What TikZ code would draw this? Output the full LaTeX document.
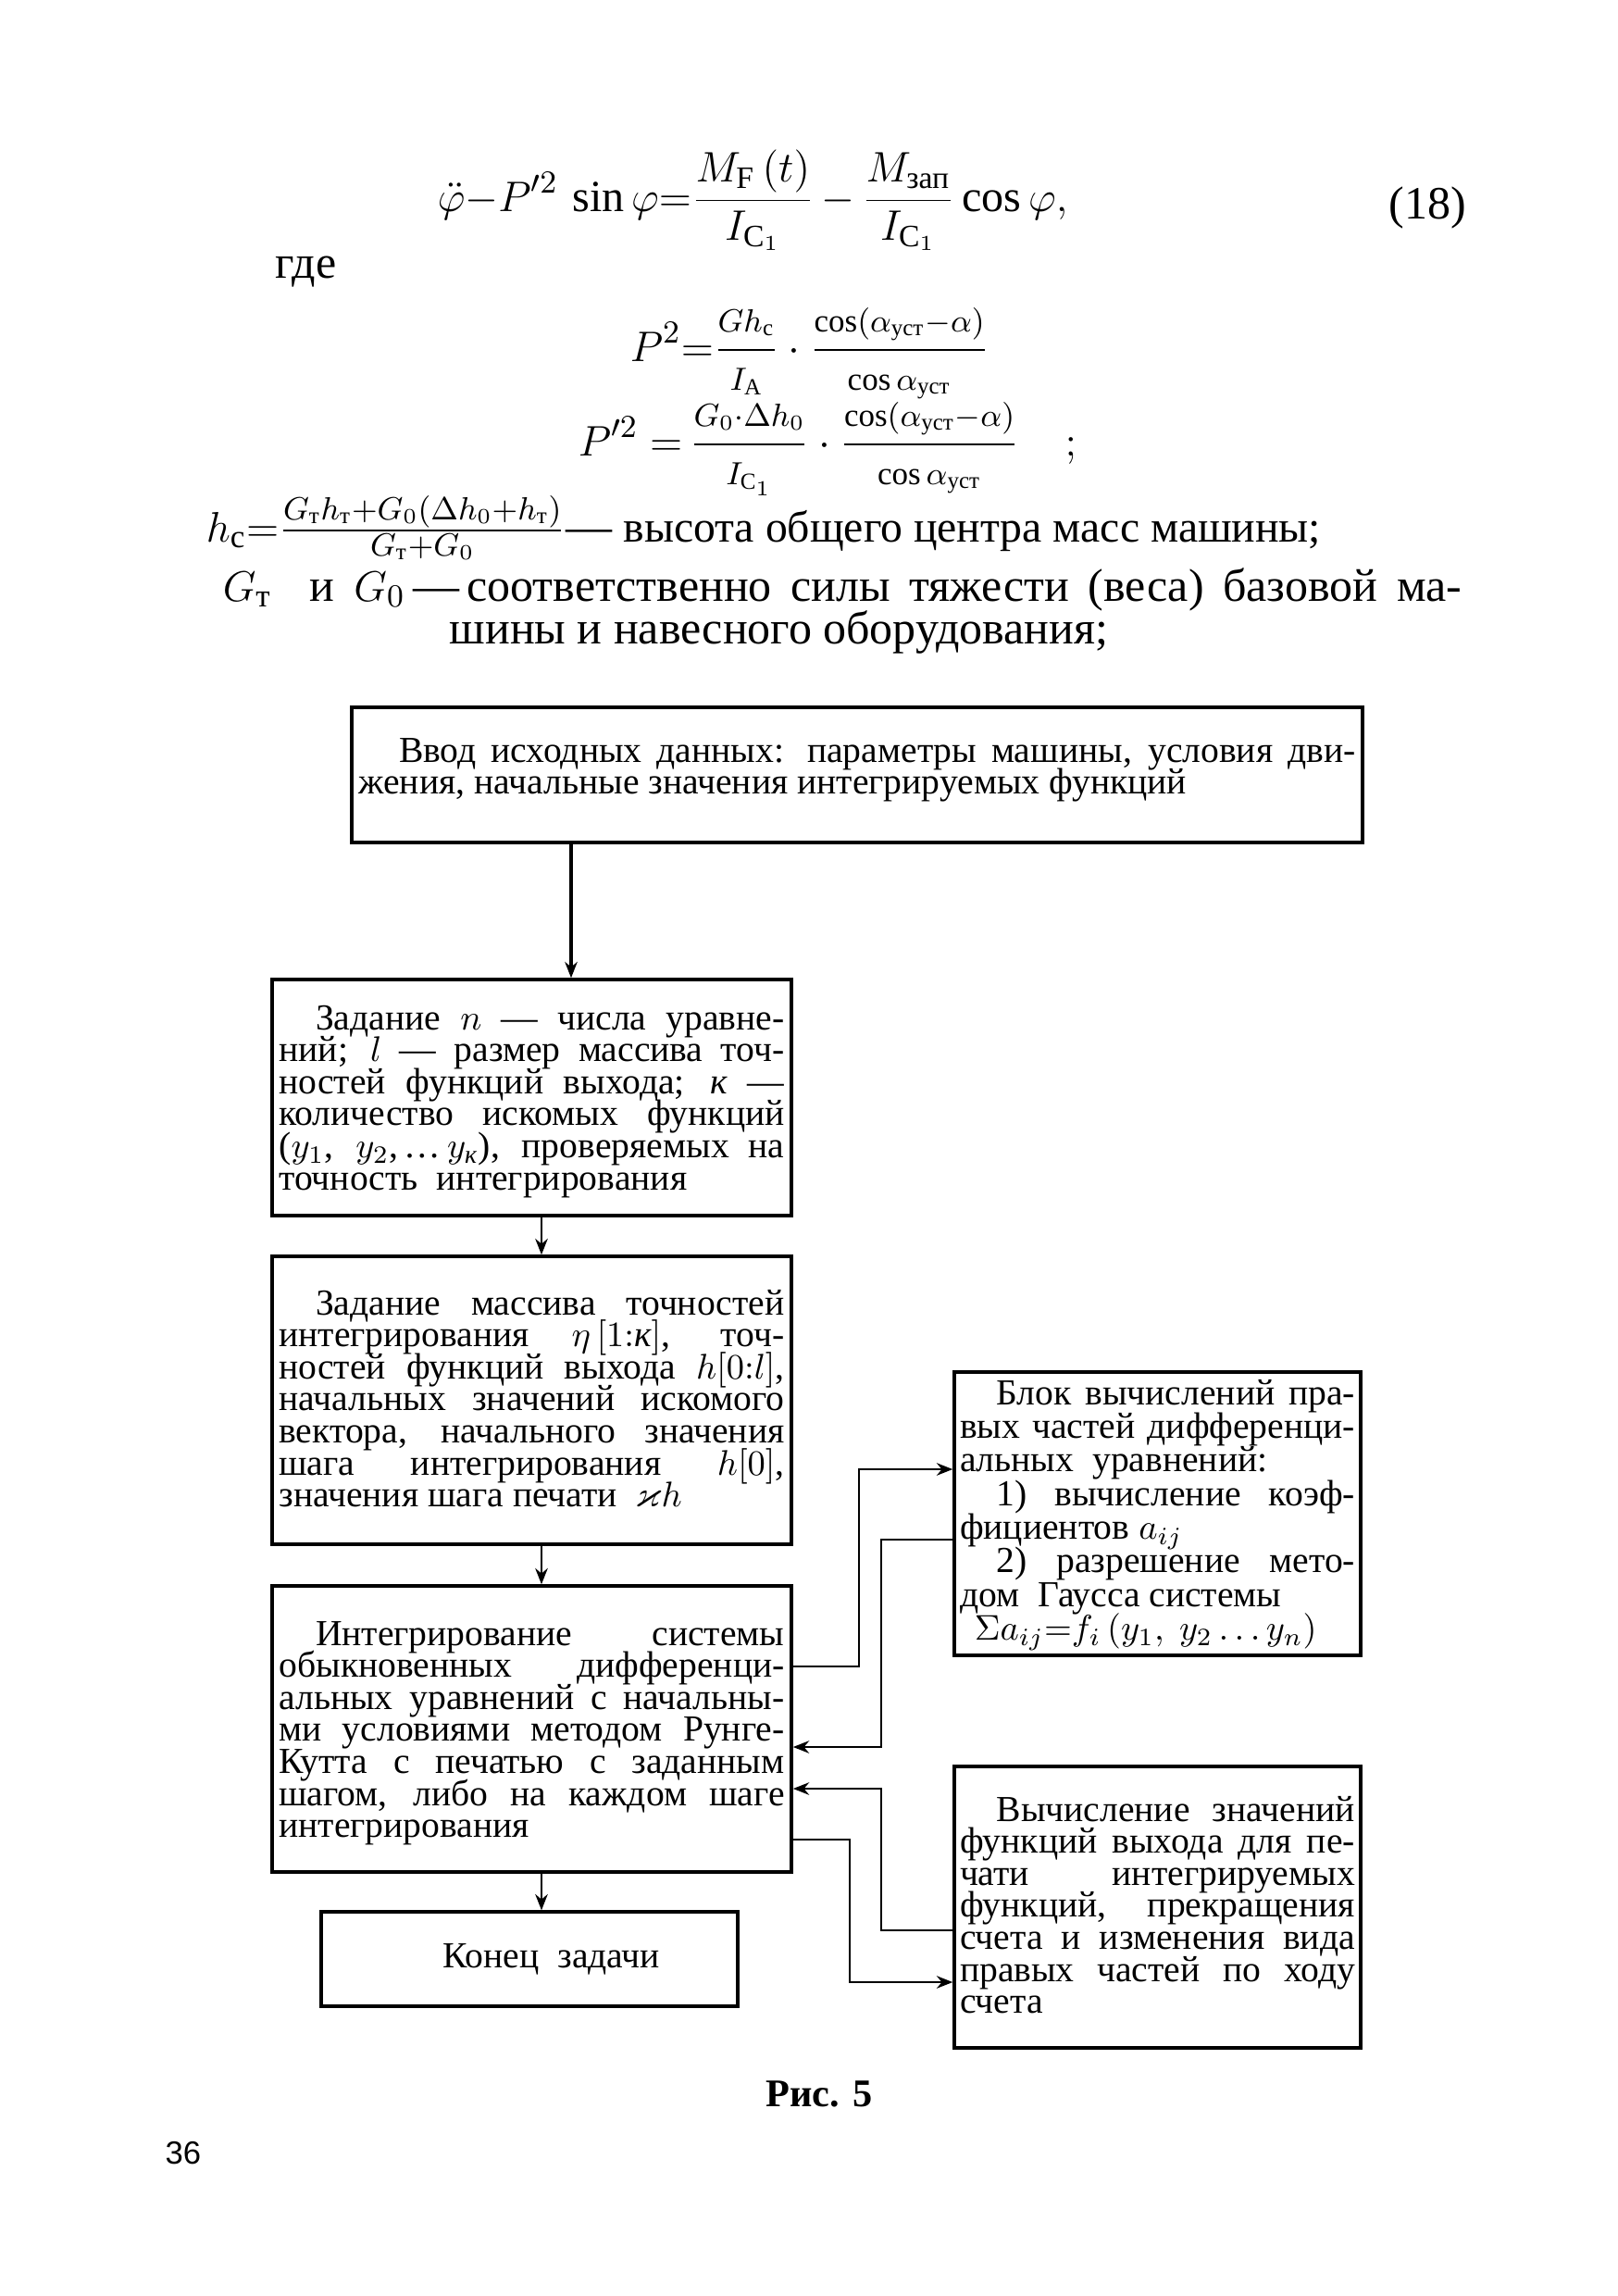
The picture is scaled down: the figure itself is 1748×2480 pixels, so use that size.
\documentclass[tikz,border=0pt]{standalone}
\usepackage{amsmath,amssymb}
\usepackage{fontspec}
\setmainfont{Liberation Serif}
\newfontfamily\pgnumfont{Liberation Sans}
\usetikzlibrary{arrows.meta}
\lineskiplimit=-30pt
\lineskip=0pt
\newlength\tw
\newcommand\sps{\spaceskip=0pt\xspaceskip=0pt\relax}
% justified line, first (strutted) line, left line, last line
\newcommand\jl[1]{\makebox[\tw][s]{\sps#1}\\}
\newcommand\jfirst[2]{\rule{0pt}{#1}\smash{\makebox[\tw][s]{\sps#2}}\\}
\newcommand\lft[1]{\makebox[\tw][l]{\sps#1}\\}
\newcommand\jlast[1]{\smash{\makebox[\tw][l]{\sps#1}}\rule[-3pt]{0pt}{3pt}}
\newcommand\ind{\hspace*{1em}}
\newcommand\kk{\textit{к}}
\newcommand\boxfont{\fontsize{10.3}{9.0}\selectfont\lineskiplimit=-30pt\relax}
\newcommand\boxfontA{\fontsize{10.3}{9.45}\selectfont\lineskiplimit=-30pt\relax}
\newcommand\mainfont{\fontsize{13}{15.6}\selectfont}
\newcommand\eqfont{\fontsize{12.5}{15}\selectfont}
\tikzset{
  box/.style={draw, line width=0.9pt, inner ysep=0pt, font=\boxfont},
  conn/.style={line width=0.7pt, -{Stealth[length=4.5pt,width=3.5pt]}},
  main/.style={font=\mainfont, inner sep=0pt}
}
\begin{document}
\begin{tikzpicture}[x=0.26pt,y=-0.26pt]
\fill[white] (0,0) rectangle (1748,2480);
\useasboundingbox (0,0) rectangle (1748,2480);

% ---------- formulas ----------
\node[main, font=\eqfont, anchor=base west] (eq) at (472,228)
  {$\displaystyle \ddot{\varphi}{-}P'^{2}\,\sin\varphi{=}\frac{M_{\mathrm F}\,(t)}{I_{\mathrm{C}_1}}\,{-}\,\frac{M_{\text{зап}}}{I_{\mathrm{C}_1}}\cos\varphi,$};
\node[main, anchor=base east] (eqnum) at (1585,236) {(18)};
\node[main, anchor=base west] (gde) at (297,300) {где};
\node[main, anchor=base west] (p2) at (680,390)
  {$\displaystyle P^2{=}\frac{\scriptstyle Gh_{\mathrm c}}{\scriptstyle I_{\mathrm A}}\cdot\frac{\scriptstyle \cos(\alpha_{\text{уст}}{-}\alpha)}{\scriptstyle \cos\alpha_{\text{уст}}}$};
\node[main, anchor=base west] (pp2) at (624,492)
  {$\displaystyle P'^{2}\ {=}\,\frac{\scriptstyle G_0\cdot\Delta h_0}{\scriptstyle I_{\mathrm{C}_1}}\cdot\frac{\scriptstyle \cos(\alpha_{\text{уст}}{-}\alpha)}{\scriptstyle \cos\alpha_{\text{уст}}}\quad;$};
\node[main, anchor=base west] (hc) at (222,585)
  {$h_{\mathrm c}{=}\frac{G_{\text{т}}h_{\text{т}}+G_0(\Delta h_0+h_{\text{т}})}{G_{\text{т}}+G_0}$—\ {\fontsize{12.4}{15}\selectfont высота общего центра масс машины;}};
\node[main, anchor=base west] (gt) at (240,649)
  {\makebox[348pt][s]{$G_{\text{т}}$\ \ и $G_0$\,—\,соответственно силы тяжести (веса) базовой ма-}};
\node[main, anchor=base west] (shiny) at (485,695) {шины и навесного оборудования;};

% ---------- boxes ----------
\node[box, minimum height=37.96pt, text width=280pt, inner xsep=1.95pt] (b1) at (926,837)
  {\setlength\tw{280pt}%
   \jfirst{4.72pt}{\hspace*{1.1em}Ввод исходных данных: параметры машины, условия дви-}%
   \jlast{жения, начальные значения интегрируемых функций}};

\node[box, minimum height=66.3pt, text width=142pt, inner xsep=1.95pt] (b2) at (574.5,1185.5)
  {\setlength\tw{142pt}%
   \jfirst{9.78pt}{\ind Задание $n$ — числа уравне-}%
   \jl{ний; $l$ — размер массива точ-}%
   \jl{ностей функций выхода; \kk{} —}%
   \jl{количество искомых функций}%
   \jl{($y_1$, $y_2$,\,\dots\,$y_{\kk}$), проверяемых на}%
   \jlast{точность\ \ интегрирования}};

\node[box, minimum height=80.86pt, text width=142pt, inner xsep=1.95pt] (b3) at (574.5,1512.5)
  {\setlength\tw{142pt}%
   \jfirst{8.9pt}{\ind Задание массива точностей}%
   \jl{интегрирования $\eta\,[1{:}\kk]$, точ-}%
   \jl{ностей функций выхода $h[0{:}l]$,}%
   \jl{начальных значений искомого}%
   \jl{вектора, начального значения}%
   \jl{шага интегрирования $h[0]$,}%
   \jlast{значения шага печати\ \ $\varkappa h$}};

\node[box, minimum height=80.34pt, text width=142pt, inner xsep=1.95pt] (b4) at (574.5,1867.5)
  {\setlength\tw{142pt}%
   \jfirst{9.94pt}{\ind Интегрирование системы}%
   \jl{обыкновенных дифференци-}%
   \jl{альных уравнений с начальны-}%
   \jl{ми условиями методом Рунге-}%
   \jl{Кутта с печатью с заданным}%
   \jl{шагом, либо на каждом шаге}%
   \jlast{интегрирования}};

\node[box, minimum width=117pt, minimum height=26.5pt, inner xsep=0pt, align=center] (b5) at (572,2116)
  {\hspace*{1.2em}Конец\ \ задачи};

\node[box, font=\boxfontA, minimum height=79.56pt, text width=111pt, inner xsep=1.57pt] (bA) at (1250.5,1635)
  {\setlength\tw{111pt}%
   \jfirst{7.79pt}{\ind Блок вычислений пра-}%
   \jl{вых частей дифференци-}%
   \lft{альных\ \ уравнений:}%
   \jl{\ind 1) вычисление коэф-}%
   \lft{фициентов $a_{ij}$}%
   \jl{\ind 2) разрешение мето-}%
   \lft{дом\ \ Гаусса системы}%
   \jlast{\hspace*{0.4em}$\Sigma a_{ij}{=}f_i\,(y_1,\ y_2\dots y_n)$}};

\node[box, minimum height=79.04pt, text width=111pt, inner xsep=1.57pt] (bB) at (1250.5,2060)
  {\setlength\tw{111pt}%
   \jfirst{8.64pt}{\ind Вычисление значений}%
   \jl{функций выхода для пе-}%
   \jl{чати интегрируемых}%
   \jl{функций, прекращения}%
   \jl{счета и изменения вида}%
   \jl{правых частей по ходу}%
   \jlast{счета}};

% ---------- main arrows ----------
\coordinate (ax1) at (617,0);
\coordinate (ax2) at (585,0);
\draw[conn, line width=0.9pt] (b1.south -| ax1) -- (b2.north -| ax1);
\draw[conn] (b2.south -| ax2) -- (b3.north -| ax2);
\draw[conn] (b3.south -| ax2) -- (b4.north -| ax2);
\draw[conn] (b4.south -| ax2) -- (b5.north -| ax2);

% ---------- side connectors ----------
\coordinate (c1a) at (928,1800); \coordinate (c1b) at (928,1587);
\draw[conn] (b4.east |- c1a) -- (c1a) -- (c1b) -- (bA.west |- c1b);
\coordinate (c2a) at (952,1663); \coordinate (c2b) at (952,1887);
\draw[conn] (bA.west |- c2a) -- (c2a) -- (c2b) -- (b4.east |- c2b);
\coordinate (c3a) at (952,2085); \coordinate (c3b) at (952,1932);
\draw[conn] (bB.west |- c3a) -- (c3a) -- (c3b) -- (b4.east |- c3b);
\coordinate (c4a) at (918,1987); \coordinate (c4b) at (918,2141);
\draw[conn] (b4.east |- c4a) -- (c4a) -- (c4b) -- (bB.west |- c4b);

% ---------- caption, page number ----------
\node[font=\fontsize{11}{13}\selectfont\bfseries, anchor=base, inner sep=0pt] (cap) at (885,2275) {Рис. 5};
\node[font=\pgnumfont\fontsize{9}{11}\selectfont, inner sep=0pt] (pg) at (198,2326) {36};
\end{tikzpicture}
\end{document}
